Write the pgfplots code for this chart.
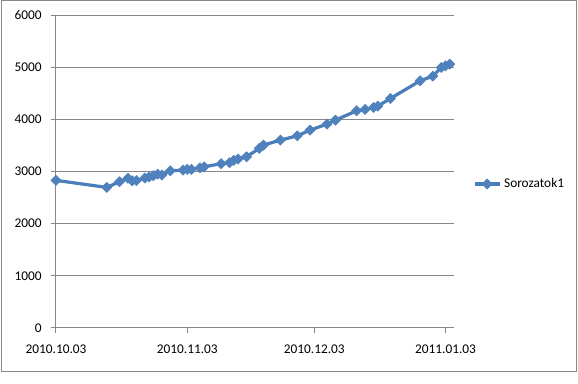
\documentclass[border=0pt]{standalone}
\usepackage{pgfplots}
\pgfplotsset{compat=1.18}
\usepackage{fontspec}
\setmainfont{Carlito}
\definecolor{gridc}{RGB}{134,134,134}
\definecolor{serc}{RGB}{74,126,187}
\definecolor{markc}{RGB}{79,129,189}
\begin{document}
\begin{tikzpicture}
\path[use as bounding box] (0pt,0pt) rectangle (433.5pt,288pt);
\draw[gridc, line width=0.75pt] (0.75pt,9pt) rectangle (432pt,287.25pt);
\begin{axis}[
  at={(42pt,42pt)}, anchor=south west,
  scale only axis, width=298.5pt, height=234.75pt,
  xmin=0, xmax=94, ymin=0, ymax=6000,
  axis x line*=bottom, axis y line*=left,
  axis line style={-, gridc, line width=0.75pt},
  xtick={0,31,61,92},
  xticklabels={2010.10.03,2010.11.03,2010.12.03,2011.01.03},
  ytick={0,1000,2000,3000,4000,5000,6000},
  ymajorgrids, grid style={gridc, line width=0.75pt},
  tick align=outside, major tick length=3.75pt,
  tick style={gridc, line width=0.75pt},
  /pgf/number format/assume math mode=true,
  /pgf/number format/set thousands separator={},
  tick label style={font=\fontsize{10}{12}\selectfont, text=black},
  xticklabel style={yshift=-5.5pt},
  yticklabel style={xshift=-3.5pt},
  legend entries={Sorozatok1},
  legend style={at={(1,0.46)}, anchor=west, xshift=14pt, draw=none, fill=none,
    font=\fontsize{10}{12}\selectfont, inner sep=0pt},
  legend cell align=left,
  legend image code/.code={\draw[mark repeat=2,mark phase=2,#1] plot coordinates {(0pt,0pt) (9.5pt,0pt) (19pt,0pt)};},
]
\addplot[serc, line width=2.4pt, mark=square*, mark size=2.7pt,
  mark options={rotate=45, fill=markc, draw=markc, line width=0.4pt}]
coordinates {
(0,2830) (12,2695) (15,2804) (17,2870) (18,2822) (19,2827) (21,2875) (22,2895)
(23,2920) (24,2950) (25,2932) (27,3013) (30,3027) (31,3042) (32,3040) (34,3070)
(35,3090) (39,3150) (41,3170) (42,3213) (43,3240) (45,3282) (48,3443) (49,3506)
(53,3602) (57,3684) (60,3793) (64,3908) (66,3985) (71,4163) (73,4190) (75,4228)
(76,4253) (79,4400) (86,4738) (89,4828) (91,4994) (92,5025) (93,5057)
};
\end{axis}
\end{tikzpicture}
\end{document}
